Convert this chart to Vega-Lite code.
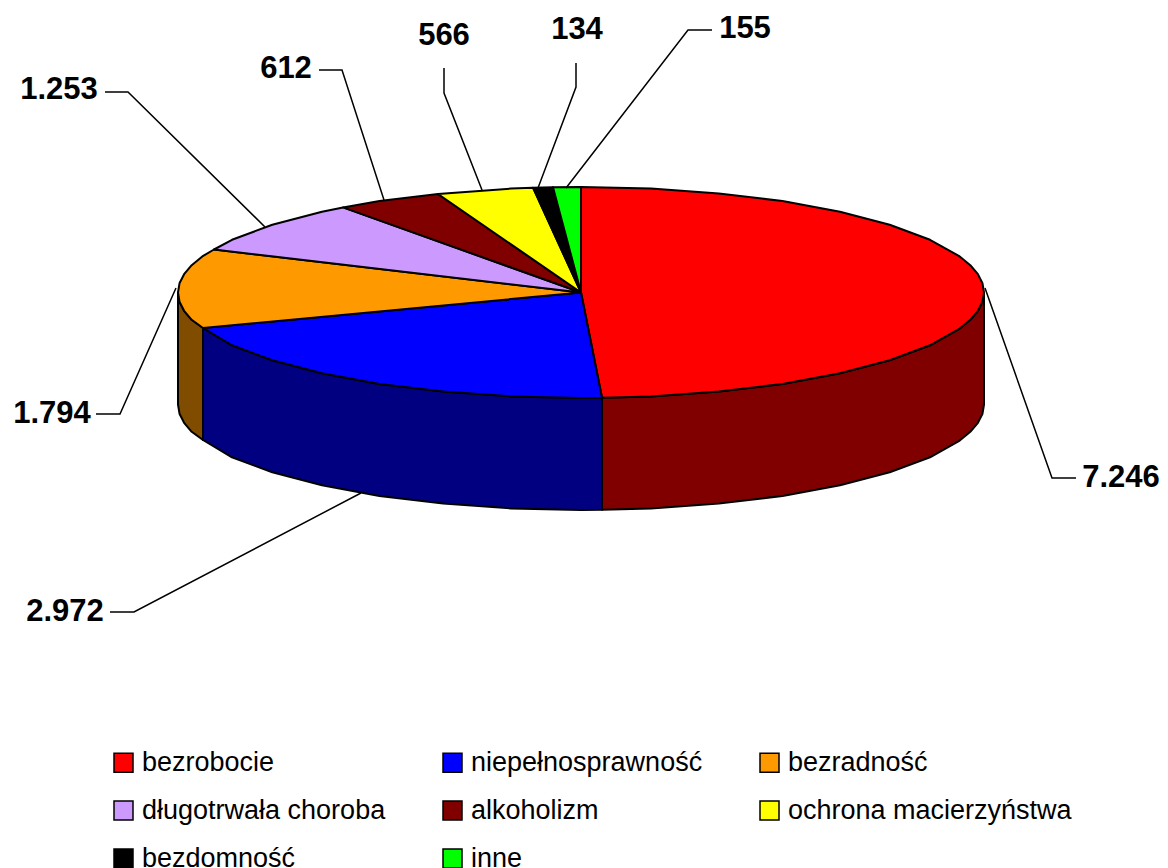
{"$schema":"https://vega.github.io/schema/vega-lite/v6.json","width":1168,"height":868,"padding":0,"autosize":{"type":"none"},"background":"white","view":{"stroke":null},
"datasets":{
"sides":[
{"slice":"bezrobocie","i":1,"x":984,"y":292.5},{"slice":"bezrobocie","i":2,"x":982.5,"y":301.7},{"slice":"bezrobocie","i":3,"x":977.9,"y":310.8},{"slice":"bezrobocie","i":4,"x":970.3,"y":319.8},{"slice":"bezrobocie","i":5,"x":959.7,"y":328.6},{"slice":"bezrobocie","i":6,"x":930,"y":345.3},{"slice":"bezrobocie","i":7,"x":889.7,"y":360.3},{"slice":"bezrobocie","i":8,"x":840,"y":373.3},{"slice":"bezrobocie","i":9,"x":782.5,"y":383.9},{"slice":"bezrobocie","i":10,"x":718.8,"y":391.6},{"slice":"bezrobocie","i":11,"x":651,"y":396.4},{"slice":"bezrobocie","i":12,"x":602,"y":397.8},{"slice":"bezrobocie","i":13,"x":602,"y":509.8},{"slice":"bezrobocie","i":14,"x":651,"y":508.4},{"slice":"bezrobocie","i":15,"x":718.8,"y":503.6},{"slice":"bezrobocie","i":16,"x":782.5,"y":495.9},{"slice":"bezrobocie","i":17,"x":840,"y":485.3},{"slice":"bezrobocie","i":18,"x":889.7,"y":472.3},{"slice":"bezrobocie","i":19,"x":930,"y":457.3},{"slice":"bezrobocie","i":20,"x":959.7,"y":440.6},{"slice":"bezrobocie","i":21,"x":970.3,"y":431.8},{"slice":"bezrobocie","i":22,"x":977.9,"y":422.8},{"slice":"bezrobocie","i":23,"x":982.5,"y":413.7},{"slice":"bezrobocie","i":24,"x":984,"y":404.5},{"slice":"bezrobocie","i":25,"x":984,"y":292.5},
{"slice":"niepełnosprawność","i":1,"x":602,"y":397.8},{"slice":"niepełnosprawność","i":2,"x":581,"y":398},{"slice":"niepełnosprawność","i":3,"x":511,"y":396.4},{"slice":"niepełnosprawność","i":4,"x":443.2,"y":391.6},{"slice":"niepełnosprawność","i":5,"x":379.5,"y":383.9},{"slice":"niepełnosprawność","i":6,"x":322,"y":373.3},{"slice":"niepełnosprawność","i":7,"x":272.3,"y":360.3},{"slice":"niepełnosprawność","i":8,"x":232,"y":345.3},{"slice":"niepełnosprawność","i":9,"x":203,"y":328},{"slice":"niepełnosprawność","i":10,"x":203,"y":440},{"slice":"niepełnosprawność","i":11,"x":232,"y":457.3},{"slice":"niepełnosprawność","i":12,"x":272.3,"y":472.3},{"slice":"niepełnosprawność","i":13,"x":322,"y":485.3},{"slice":"niepełnosprawność","i":14,"x":379.5,"y":495.9},{"slice":"niepełnosprawność","i":15,"x":443.2,"y":503.6},{"slice":"niepełnosprawność","i":16,"x":511,"y":508.4},{"slice":"niepełnosprawność","i":17,"x":581,"y":510},{"slice":"niepełnosprawność","i":18,"x":602,"y":509.8},{"slice":"niepełnosprawność","i":19,"x":602,"y":397.8},
{"slice":"bezradność","i":1,"x":203,"y":328},{"slice":"bezradność","i":2,"x":191.7,"y":319.8},{"slice":"bezradność","i":3,"x":184.1,"y":310.8},{"slice":"bezradność","i":4,"x":179.5,"y":301.7},{"slice":"bezradność","i":5,"x":178,"y":292.5},{"slice":"bezradność","i":6,"x":178,"y":404.5},{"slice":"bezradność","i":7,"x":179.5,"y":413.7},{"slice":"bezradność","i":8,"x":184.1,"y":422.8},{"slice":"bezradność","i":9,"x":191.7,"y":431.8},{"slice":"bezradność","i":10,"x":203,"y":440},{"slice":"bezradność","i":11,"x":203,"y":328}
],
"tops":[
{"slice":"bezrobocie","i":1,"x":581,"y":292.5},{"slice":"bezrobocie","i":2,"x":581,"y":187},{"slice":"bezrobocie","i":3,"x":651,"y":188.6},{"slice":"bezrobocie","i":4,"x":718.8,"y":193.4},{"slice":"bezrobocie","i":5,"x":782.5,"y":201.1},{"slice":"bezrobocie","i":6,"x":840,"y":211.7},{"slice":"bezrobocie","i":7,"x":889.7,"y":224.7},{"slice":"bezrobocie","i":8,"x":930,"y":239.8},{"slice":"bezrobocie","i":9,"x":959.7,"y":256.4},{"slice":"bezrobocie","i":10,"x":970.3,"y":265.2},{"slice":"bezrobocie","i":11,"x":977.9,"y":274.2},{"slice":"bezrobocie","i":12,"x":982.5,"y":283.3},{"slice":"bezrobocie","i":13,"x":984,"y":292.5},{"slice":"bezrobocie","i":14,"x":982.5,"y":301.7},{"slice":"bezrobocie","i":15,"x":977.9,"y":310.8},{"slice":"bezrobocie","i":16,"x":970.3,"y":319.8},{"slice":"bezrobocie","i":17,"x":959.7,"y":328.6},{"slice":"bezrobocie","i":18,"x":930,"y":345.3},{"slice":"bezrobocie","i":19,"x":889.7,"y":360.3},{"slice":"bezrobocie","i":20,"x":840,"y":373.3},{"slice":"bezrobocie","i":21,"x":782.5,"y":383.9},{"slice":"bezrobocie","i":22,"x":718.8,"y":391.6},{"slice":"bezrobocie","i":23,"x":651,"y":396.4},{"slice":"bezrobocie","i":24,"x":602,"y":397.8},{"slice":"bezrobocie","i":25,"x":581,"y":292.5},
{"slice":"niepełnosprawność","i":1,"x":581,"y":292.5},{"slice":"niepełnosprawność","i":2,"x":602,"y":397.8},{"slice":"niepełnosprawność","i":3,"x":581,"y":398},{"slice":"niepełnosprawność","i":4,"x":511,"y":396.4},{"slice":"niepełnosprawność","i":5,"x":443.2,"y":391.6},{"slice":"niepełnosprawność","i":6,"x":379.5,"y":383.9},{"slice":"niepełnosprawność","i":7,"x":322,"y":373.3},{"slice":"niepełnosprawność","i":8,"x":272.3,"y":360.3},{"slice":"niepełnosprawność","i":9,"x":232,"y":345.3},{"slice":"niepełnosprawność","i":10,"x":203,"y":328},{"slice":"niepełnosprawność","i":11,"x":581,"y":292.5},
{"slice":"bezradność","i":1,"x":581,"y":292.5},{"slice":"bezradność","i":2,"x":203,"y":328},{"slice":"bezradność","i":3,"x":191.7,"y":319.8},{"slice":"bezradność","i":4,"x":184.1,"y":310.8},{"slice":"bezradność","i":5,"x":179.5,"y":301.7},{"slice":"bezradność","i":6,"x":178,"y":292.5},{"slice":"bezradność","i":7,"x":179.5,"y":283.3},{"slice":"bezradność","i":8,"x":184.1,"y":274.2},{"slice":"bezradność","i":9,"x":191.7,"y":265.2},{"slice":"bezradność","i":10,"x":202.3,"y":256.4},{"slice":"bezradność","i":11,"x":214,"y":249.5},{"slice":"bezradność","i":12,"x":581,"y":292.5},
{"slice":"długotrwała choroba","i":1,"x":581,"y":292.5},{"slice":"długotrwała choroba","i":2,"x":214,"y":249.5},{"slice":"długotrwała choroba","i":3,"x":232,"y":239.8},{"slice":"długotrwała choroba","i":4,"x":272.3,"y":224.7},{"slice":"długotrwała choroba","i":5,"x":322,"y":211.7},{"slice":"długotrwała choroba","i":6,"x":343,"y":207.4},{"slice":"długotrwała choroba","i":7,"x":581,"y":292.5},
{"slice":"alkoholizm","i":1,"x":581,"y":292.5},{"slice":"alkoholizm","i":2,"x":343,"y":207.4},{"slice":"alkoholizm","i":3,"x":379.5,"y":201.1},{"slice":"alkoholizm","i":4,"x":438,"y":194},{"slice":"alkoholizm","i":5,"x":581,"y":292.5},
{"slice":"ochrona macierzyństwa","i":1,"x":581,"y":292.5},{"slice":"ochrona macierzyństwa","i":2,"x":438,"y":194},{"slice":"ochrona macierzyństwa","i":3,"x":511,"y":188.6},{"slice":"ochrona macierzyństwa","i":4,"x":533,"y":187.7},{"slice":"ochrona macierzyństwa","i":5,"x":581,"y":292.5},
{"slice":"bezdomność","i":1,"x":581,"y":292.5},{"slice":"bezdomność","i":2,"x":533,"y":187.7},{"slice":"bezdomność","i":3,"x":553,"y":187.2},{"slice":"bezdomność","i":4,"x":581,"y":292.5},
{"slice":"inne","i":1,"x":581,"y":292.5},{"slice":"inne","i":2,"x":553,"y":187.2},{"slice":"inne","i":3,"x":581,"y":187},{"slice":"inne","i":4,"x":581,"y":292.5}
],
"leaders":[
{"label":"7.246","i":1,"x":1076,"y":478},{"label":"7.246","i":2,"x":1052,"y":478},{"label":"7.246","i":3,"x":985,"y":288},
{"label":"2.972","i":1,"x":110,"y":612},{"label":"2.972","i":2,"x":134,"y":612},{"label":"2.972","i":3,"x":361,"y":493},
{"label":"1.794","i":1,"x":96,"y":414},{"label":"1.794","i":2,"x":120,"y":414},{"label":"1.794","i":3,"x":176,"y":288},
{"label":"1.253","i":1,"x":105,"y":92},{"label":"1.253","i":2,"x":128,"y":92},{"label":"1.253","i":3,"x":265,"y":227},
{"label":"612","i":1,"x":319,"y":70},{"label":"612","i":2,"x":342,"y":70},{"label":"612","i":3,"x":384,"y":200},
{"label":"566","i":1,"x":444,"y":68},{"label":"566","i":2,"x":444,"y":93},{"label":"566","i":3,"x":482,"y":190},
{"label":"134","i":1,"x":576,"y":63},{"label":"134","i":2,"x":576,"y":87},{"label":"134","i":3,"x":538,"y":188},
{"label":"155","i":1,"x":712,"y":30},{"label":"155","i":2,"x":688,"y":30},{"label":"155","i":3,"x":566,"y":188}
],
"labels":[
{"label":"7.246","slice":"bezrobocie","value":7246,"x":1121,"y":478},
{"label":"2.972","slice":"niepełnosprawność","value":2972,"x":65,"y":612},
{"label":"1.794","slice":"bezradność","value":1794,"x":52,"y":414},
{"label":"1.253","slice":"długotrwała choroba","value":1253,"x":59,"y":90},
{"label":"612","slice":"alkoholizm","value":612,"x":286,"y":69},
{"label":"566","slice":"ochrona macierzyństwa","value":566,"x":444,"y":36},
{"label":"134","slice":"bezdomność","value":134,"x":577,"y":30},
{"label":"155","slice":"inne","value":155,"x":745,"y":29}
]},
"encoding":{
"x":{"field":"x","type":"quantitative","scale":{"domain":[0,1168]},"axis":null},
"y":{"field":"y","type":"quantitative","scale":{"domain":[0,868],"reverse":true},"axis":null}
},
"layer":[
{"data":{"name":"sides"},"mark":{"type":"line","stroke":"black","strokeWidth":2,"strokeJoin":"round"},
"encoding":{"order":{"field":"i","type":"quantitative"},"fill":{"field":"slice","type":"nominal","legend":null,"scale":{"domain":["bezrobocie","niepełnosprawność","bezradność"],"range":["#800000","#000080","#804c00"]}}}},
{"data":{"name":"tops"},"mark":{"type":"line","stroke":"black","strokeWidth":2,"strokeJoin":"round"},
"encoding":{"order":{"field":"i","type":"quantitative"},"fill":{"field":"slice","type":"nominal","scale":{"domain":["bezrobocie","niepełnosprawność","bezradność","długotrwała choroba","alkoholizm","ochrona macierzyństwa","bezdomność","inne"],"range":["#ff0000","#0000ff","#ff9900","#cc99ff","#800000","#ffff00","#000000","#00ff00"]},
"legend":{"title":null,"orient":"none","legendX":110,"legendY":749,"direction":"horizontal","columns":3,"gridAlign":"each","columnPadding":53,"rowPadding":20,"symbolType":"square","symbolSize":361,"symbolStrokeColor":"black","symbolStrokeWidth":1.5,"symbolOpacity":1,"labelFont":"Liberation Sans","labelFontSize":27,"labelColor":"black","labelOffset":5,"labelLimit":400,"values":["bezrobocie","niepełnosprawność","bezradność","długotrwała choroba","alkoholizm","ochrona macierzyństwa","bezdomność","inne"]}}}},
{"data":{"name":"leaders"},"mark":{"type":"line","stroke":"black","strokeWidth":1.5},
"encoding":{"order":{"field":"i","type":"quantitative"},"detail":{"field":"label"}}},
{"data":{"name":"labels"},"mark":{"type":"text","font":"Liberation Sans","fontWeight":"bold","fontSize":31,"color":"black","align":"center","baseline":"middle"},
"encoding":{"text":{"field":"label","type":"nominal"}}}
],
"resolve":{"scale":{"fill":"independent"}}
}
